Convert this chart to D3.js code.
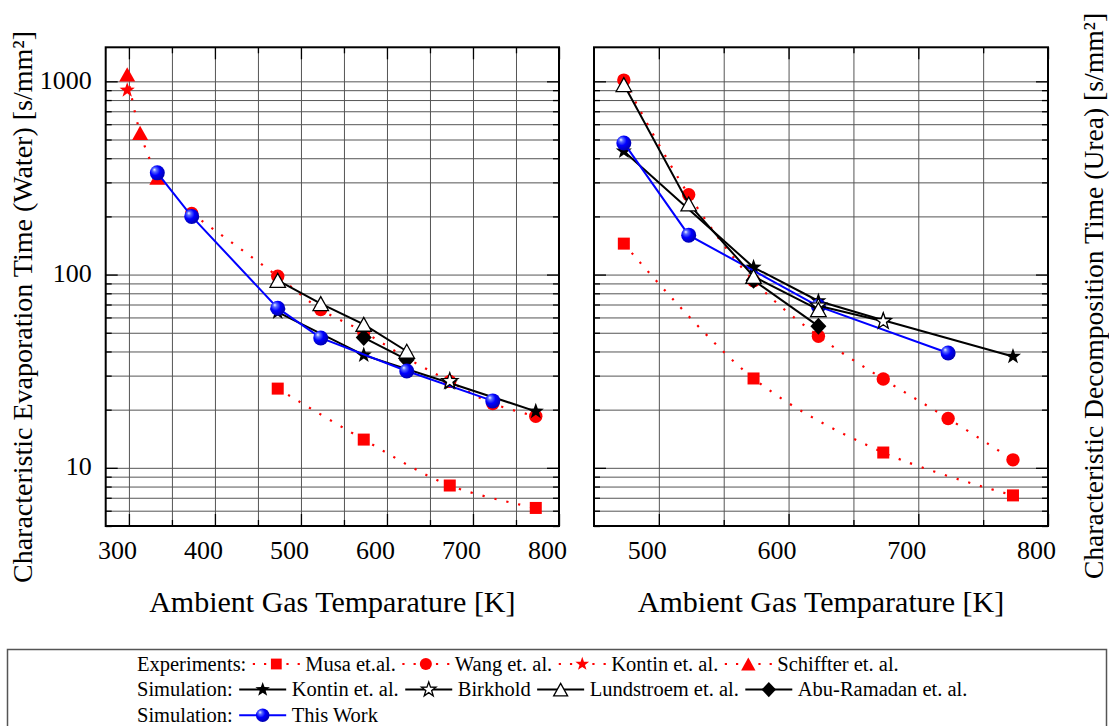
<!DOCTYPE html>
<html>
<head>
<meta charset="utf-8">
<script src="https://cdn.jsdelivr.net/npm/d3@7"></script>
<style>
body { margin: 0; background: #fff; }
svg { display: block; font-family: "Liberation Serif", "Times New Roman", serif; }
</style>
</head>
<body>
<svg id="chart" width="1109" height="726"></svg>
<script>
// ---- data (temperature in K, time in s/mm²) ----
var leftTicks = [300, 400, 500, 600, 700, 800];
var rightTicks = [500, 600, 700, 800];
var yTicks = [10, 100, 1000];

// water (left panel)
var musaWT = [473, 573, 673, 773],            musaW = [25.7, 14.0, 8.1, 6.2];
var wangWT = [373, 473, 523, 573, 623, 673, 723, 773], wangW = [207, 98, 66, 50.5, 37, 28, 21.5, 18.5];
var kontinExpWT = [298],                      kontinExpW = [900];
var schiffterWT = [298, 313, 333],            schiffterW = [1087, 541, 318];
var kontinSimWT = [473, 573, 673, 773],       kontinSimW = [64, 38.3, 27.5, 19.6];
var birkholdWT = [673],                       birkholdW = [28.1];
var lundWT = [473, 523, 573, 623],            lundW = [93.4, 70.8, 55.3, 40.1];
var abuWT = [573, 623],                       abuW = [47.2, 36.3];
var thisWT = [333, 373, 473, 523, 623, 723],  thisW = [336, 200, 67, 47, 31.7, 22.2];

// urea (right panel)
var musaUT = [473, 573, 673, 773],            musaU = [144.6, 29.0, 12.0, 7.2];
var wangUT = [473, 523, 573, 623, 673, 723, 773], wangU = [1015, 259, 93, 48, 28.8, 18.0, 11.0];
var kontinSimUT = [473, 573, 623, 673, 773],  kontinSimU = [435, 109, 73, 58, 37.7];
var birkholdUT = [623, 673],                  birkholdU = [69, 57.3];
var lundUT = [473, 523, 573, 623],            lundU = [962, 232, 97.8, 65.9];
var abuUT = [573, 623],                       abuU = [93.4, 54.1];
var thisUT = [473, 523, 623, 723],            thisU = [480, 160, 68.5, 39.3];

var svg = d3.select("#chart");
var plotTop = 47.3, plotBottom = 526;

var defs = svg.append("defs");
var grad = defs.append("radialGradient").attr("id", "ball")
  .attr("cx", "40%").attr("cy", "40%").attr("r", "60%").attr("fx", "30%").attr("fy", "28%");
grad.append("stop").attr("offset", "0%").attr("stop-color", "#f0f4ff");
grad.append("stop").attr("offset", "22%").attr("stop-color", "#5a6cff");
grad.append("stop").attr("offset", "55%").attr("stop-color", "#0000ff");
grad.append("stop").attr("offset", "100%").attr("stop-color", "#0000b4");

var y = d3.scaleLog().domain([5, 1500]).range([plotBottom, plotTop]);
var yGrid = [];
[1, 10, 100].forEach(function(dec) {
  for (var k = 1; k <= 9; k++) if (k * dec >= 5) yGrid.push(k * dec);
});
yGrid.push(1000);

function starPath(R) {
  var pts = [];
  for (var i = 0; i < 10; i++) {
    var r = i % 2 ? R * 0.4 : R;
    var a = -Math.PI / 2 + i * Math.PI / 5;
    pts.push([r * Math.cos(a), r * Math.sin(a)]);
  }
  return "M" + pts.join("L") + "Z";
}
function triPath(s) {
  var h = s * 0.9;
  return "M0," + (-h / 2) + "L" + (s / 2) + "," + (h / 2) + "L" + (-s / 2) + "," + (h / 2) + "Z";
}
function diamondPath(w, h) {
  return "M0," + (-h / 2) + "L" + (w / 2) + ",0L0," + (h / 2) + "L" + (-w / 2) + ",0Z";
}

function marker(g, type, cx, cy, k) {
  k = k || 1;
  if (type == "square") {
    g.append("rect").attr("x", cx - 6 * k).attr("y", cy - 6 * k)
      .attr("width", 12 * k).attr("height", 12 * k).attr("fill", "#ff0000");
  } else if (type == "circle") {
    g.append("circle").attr("cx", cx).attr("cy", cy).attr("r", 6.7 * k).attr("fill", "#ff0000");
  } else if (type == "ball") {
    g.append("circle").attr("cx", cx).attr("cy", cy).attr("r", 7.5 * k).attr("fill", "url(#ball)");
  } else {
    var d, fill = "#000", stroke = "none";
    if (type == "starRed") { d = starPath(8 * k); fill = "#ff0000"; }
    if (type == "triRed") { d = triPath(16 * k); fill = "#ff0000"; }
    if (type == "starBlack") { d = starPath(8.5 * k); }
    if (type == "starWhite") { d = starPath(8.5 * k); fill = "#fff"; stroke = "#000"; }
    if (type == "triWhite") { d = triPath(15.5 * k); fill = "#fff"; stroke = "#000"; }
    if (type == "diamond") { d = diamondPath(16 * k, 17 * k); }
    g.append("path").attr("transform", "translate(" + cx + "," + cy + ")")
      .attr("d", d).attr("fill", fill).attr("stroke", stroke).attr("stroke-width", 1.3);
  }
}

// line styles
var styles = {
  exp:  { stroke: "#ff0000", width: 2.2, dash: "2.2 10", curve: d3.curveCatmullRom.alpha(0.5) },
  sim:  { stroke: "#000", width: 2, dash: null, curve: d3.curveLinear },
  blue: { stroke: "#0000ff", width: 2, dash: null, curve: d3.curveLinear }
};

var panels = [
  { x0: 105.7, x1: 559, dom: [273, 800], major: leftTicks, yLabels: true,
    series: [
      [musaWT, musaW, "exp", "square"],
      [wangWT, wangW, "exp", "circle"],
      [kontinExpWT, kontinExpW, "exp", "starRed"],
      [schiffterWT, schiffterW, "exp", "triRed"],
      [kontinSimWT, kontinSimW, "sim", "starBlack"],
      [abuWT, abuW, "sim", "diamond"],
      [thisWT, thisW, "blue", "ball"],
      [birkholdWT, birkholdW, "sim", "starWhite"],
      [lundWT, lundW, "sim", "triWhite"]
    ] },
  { x0: 594, x1: 1048, dom: [450, 800], major: rightTicks, yLabels: false,
    series: [
      [musaUT, musaU, "exp", "square"],
      [wangUT, wangU, "exp", "circle"],
      [kontinSimUT, kontinSimU, "sim", "starBlack"],
      [abuUT, abuU, "sim", "diamond"],
      [thisUT, thisU, "blue", "ball"],
      [birkholdUT, birkholdU, "sim", "starWhite"],
      [lundUT, lundU, "sim", "triWhite"]
    ] }
];

function clean(sel) {
  sel.attr("font-family", null).attr("font-size", null);
  sel.select(".domain").remove();
}

panels.forEach(function(p) {
  var x = d3.scaleLinear().domain(p.dom).range([p.x0, p.x1]);
  var g = svg.append("g");
  var gridX = d3.range(Math.ceil(p.dom[0] / 50) * 50, p.dom[1], 50).filter(function(v) { return v > p.dom[0]; });
  var minorX = gridX.filter(function(v) { return p.major.indexOf(v) < 0; });
  var minorY = yGrid.filter(function(v) { return yTicks.indexOf(v) < 0; });

  // grid
  g.append("g").attr("class", "grid").attr("transform", "translate(0," + plotBottom + ")")
    .call(d3.axisBottom(x).tickValues(gridX).tickSize(-(plotBottom - plotTop)).tickFormat(""))
    .call(clean);
  g.append("g").attr("class", "grid").attr("transform", "translate(" + p.x0 + ",0)")
    .call(d3.axisLeft(y).tickValues(yGrid).tickSize(-(p.x1 - p.x0)).tickFormat(""))
    .call(clean);
  g.selectAll(".grid line").attr("stroke", "#555").attr("stroke-width", 1);

  // ticks (inward) on all four sides
  var tk = g.append("g").attr("class", "ticks");
  var bx = tk.append("g").attr("transform", "translate(0," + plotBottom + ")")
    .call(d3.axisBottom(x).tickValues(p.major).tickSize(-12).tickFormat(d3.format("d")))
    .call(clean);
  bx.selectAll("text").attr("y", 33).attr("dy", null).attr("dx", -12)
    .attr("font-size", 26).attr("fill", "#000");
  tk.append("g").attr("transform", "translate(0," + plotBottom + ")")
    .call(d3.axisBottom(x).tickValues(minorX).tickSize(-6).tickFormat("")).call(clean);
  tk.append("g").attr("transform", "translate(0," + plotTop + ")")
    .call(d3.axisTop(x).tickValues(p.major).tickSize(-12).tickFormat("")).call(clean);
  tk.append("g").attr("transform", "translate(0," + plotTop + ")")
    .call(d3.axisTop(x).tickValues(minorX).tickSize(-6).tickFormat("")).call(clean);

  var ly = tk.append("g").attr("transform", "translate(" + p.x0 + ",0)")
    .call(d3.axisLeft(y).tickValues(yTicks).tickSize(-12)
      .tickFormat(p.yLabels ? d3.format("d") : ""))
    .call(clean);
  ly.selectAll("text").attr("x", -14).attr("dy", 7).attr("font-size", 26).attr("fill", "#000");
  tk.append("g").attr("transform", "translate(" + p.x0 + ",0)")
    .call(d3.axisLeft(y).tickValues(minorY).tickSize(-6).tickFormat("")).call(clean);
  tk.append("g").attr("transform", "translate(" + p.x1 + ",0)")
    .call(d3.axisRight(y).tickValues(yTicks).tickSize(-12).tickFormat("")).call(clean);
  tk.append("g").attr("transform", "translate(" + p.x1 + ",0)")
    .call(d3.axisRight(y).tickValues(minorY).tickSize(-6).tickFormat("")).call(clean);
  tk.selectAll("line").attr("stroke", "#000").attr("stroke-width", 1.3);

  // data
  p.series.forEach(function(s) {
    var st = styles[s[2]];
    var pts = s[0].map(function(t, i) { return [x(t), y(s[1][i])]; });
    if (pts.length > 1) {
      g.append("path").attr("d", d3.line().curve(st.curve)(pts))
        .attr("fill", "none").attr("stroke", st.stroke).attr("stroke-width", st.width)
        .attr("stroke-dasharray", st.dash);
    }
    pts.forEach(function(pt) { marker(g, s[3], pt[0], pt[1]); });
  });

  // frame
  g.append("rect").attr("x", p.x0).attr("y", plotTop)
    .attr("width", p.x1 - p.x0).attr("height", plotBottom - plotTop)
    .attr("fill", "none").attr("stroke", "#000").attr("stroke-width", 2);

  g.append("text").attr("x", (p.x0 + p.x1) / 2).attr("y", 612)
    .attr("text-anchor", "middle").attr("font-size", 30)
    .text("Ambient Gas Temparature [K]");
});

svg.append("text").attr("transform", "translate(32,307) rotate(-90)")
  .attr("text-anchor", "middle").attr("font-size", 28)
  .text("Characteristic Evaporation Time (Water) [s/mm²]");
svg.append("text").attr("transform", "translate(1103,296) rotate(-90)")
  .attr("text-anchor", "middle").attr("font-size", 27.6)
  .text("Characteristic Decomposition Time (Urea) [s/mm²]");

// ---- legend ----
var legendRows = [
  { label: "Experiments:", items: [["Musa et.al.", "exp", "square"], ["Wang et. al.", "exp", "circle"],
    ["Kontin et. al.", "exp", "starRed"], ["Schiffter et. al.", "exp", "triRed"]] },
  { label: "Simulation:", items: [["Kontin et. al.", "sim", "starBlack"], ["Birkhold", "sim", "starWhite"],
    ["Lundstroem et. al.", "sim", "triWhite"], ["Abu-Ramadan et. al.", "sim", "diamond"]] },
  { label: "Simulation:", items: [["This Work", "blue", "ball"]] }
];

var lg = svg.append("g");
lg.append("rect").attr("x", 7.5).attr("y", 649.5).attr("width", 1099).attr("height", 90)
  .attr("fill", "none").attr("stroke", "#555").attr("stroke-width", 1.5);

legendRows.forEach(function(row, r) {
  var by = 670.5 + r * 25.6;
  var t = lg.append("text").attr("x", 137).attr("y", by).attr("font-size", 20.5).text(row.label);
  var end = 137 + t.node().getComputedTextLength();
  row.items.forEach(function(it) {
    var cx = end + 30, cy = by - 6.5;
    var st = styles[it[1]];
    lg.append("line").attr("x1", cx - 23.5).attr("x2", cx + 23.5).attr("y1", cy).attr("y2", cy)
      .attr("stroke", st.stroke).attr("stroke-width", st.width)
      .attr("stroke-dasharray", it[1] == "exp" ? "2.2 9" : null);
    marker(lg, it[2], cx, cy, 0.9);
    var tt = lg.append("text").attr("x", cx + 29).attr("y", by).attr("font-size", 20.5).text(it[0]);
    end = cx + 29 + tt.node().getComputedTextLength();
  });
});
</script>
</body>
</html>
